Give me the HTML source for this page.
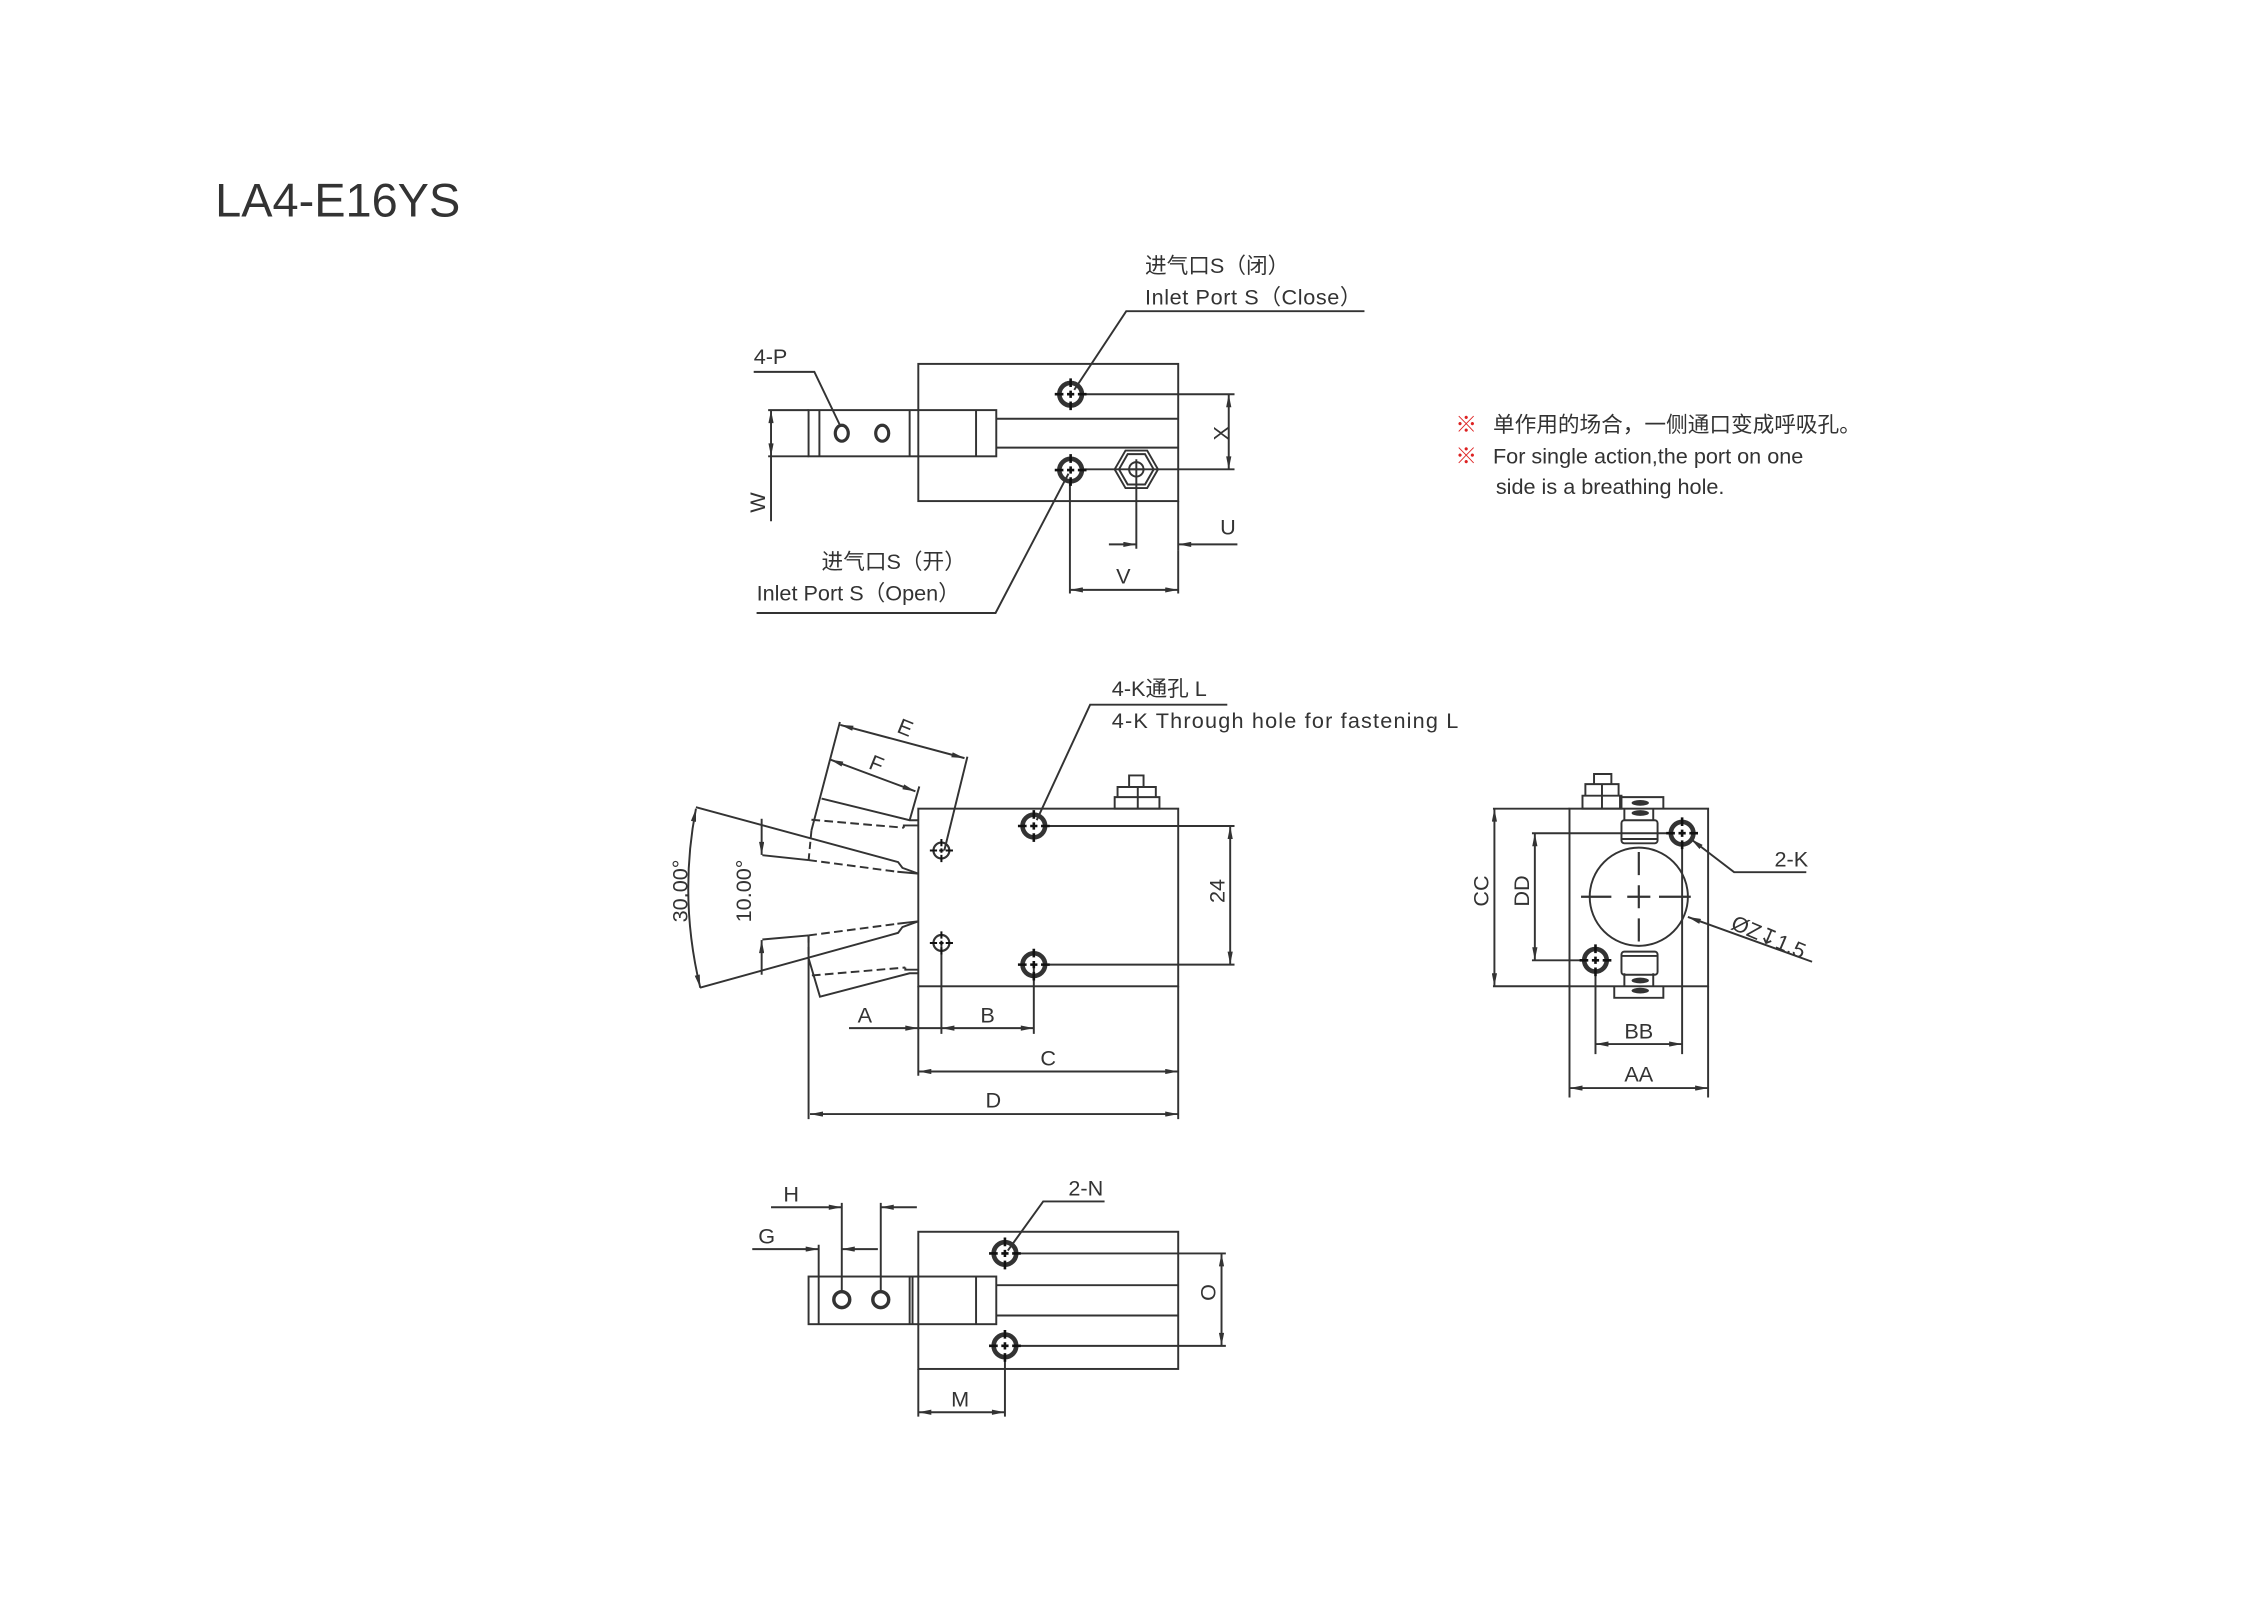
<!DOCTYPE html>
<html><head><meta charset="utf-8"><style>
html,body{margin:0;padding:0;background:#fff;}
svg{display:block;}
text{font-family:"Liberation Sans","Noto Sans CJK SC",sans-serif;fill:#333;}
</style></head><body>
<svg width="2264" height="1600" viewBox="0 0 1568 1108" preserveAspectRatio="none" xmlns="http://www.w3.org/2000/svg">
<defs>
<marker id="a" viewBox="0 0 10 4" refX="10" refY="2" markerWidth="11" markerHeight="3.6" markerUnits="userSpaceOnUse" orient="auto-start-reverse"><path d="M0,0 L10,2 L0,4 z" fill="#333"/></marker>
<g id="port"><circle r="7.8" fill="none" stroke="#333" stroke-width="3.2"/><path d="M-11,0 H-5 M-2.5,0 H2.5 M5,0 H11 M0,-11 V-5 M0,-2.5 V2.5 M0,5 V11" stroke="#111" stroke-width="1.8"/></g>
<g id="sh"><circle r="5.5" fill="none" stroke="#333" stroke-width="1.5"/><path d="M-8,0 H-3 M-1.5,0 H1.5 M3,0 H8 M0,-8 V-3 M0,-1.5 V1.5 M0,3 V8" stroke="#111" stroke-width="1.4"/></g>
</defs>
<rect width="1568" height="1108" fill="#fff"/>
<text x="149" y="150" font-size="32.5">LA4-E16YS</text>

<g stroke="#333" stroke-width="1.35" fill="none">
<!-- TOP VIEW -->
<rect x="636" y="252" width="180" height="95"/>
<rect x="560" y="284" width="130" height="32"/>
<path d="M567.5,284V316 M630,284V316 M676,284V316 M690,290H816 M690,310H816"/>
<ellipse cx="583" cy="300" rx="4.5" ry="5.5" stroke-width="2.2"/>
<ellipse cx="611" cy="300" rx="4.5" ry="5.5" stroke-width="2.2"/>
<path d="M772,325 l7.5,-13 h15 l7.5,13 l-7.5,13 h-15z"/>
<path d="M775,325 l6,-10.5 h12 l6,10.5 l-6,10.5 h-12z"/>
<circle cx="787" cy="325" r="5"/>
<path d="M787,318V380 M781,325H793"/>
<path d="M750,273H855 M750,325H855"/>
<line x1="851" y1="273" x2="851" y2="325" marker-start="url(#a)" marker-end="url(#a)"/>
<path d="M816,347V381"/>
<line x1="768" y1="377" x2="787" y2="377" marker-end="url(#a)"/>
<line x1="857" y1="377" x2="816" y2="377" marker-end="url(#a)"/>
<path d="M741,333V411 M816,381V411"/>
<line x1="741" y1="408.5" x2="816" y2="408.5" marker-start="url(#a)" marker-end="url(#a)"/>
<path d="M532,284H560 M532,316H560"/>
<line x1="534" y1="316" x2="534" y2="284" marker-start="url(#a)" marker-end="url(#a)"/>
<path d="M534,316V361"/>
<path d="M522,257.5H564L582,295"/>
<path d="M945,215.5H780L744,270"/>
<path d="M524,424.5H689.5L740,328"/>

<!-- MIDDLE VIEW -->
<rect x="636" y="560" width="180" height="123"/>
<path d="M772,552H803V560H772Z M788,552V560 M774,545H800.5V552H774Z M788,545V552 M782,537H792V545H782Z"/>
<path d="M724,572H855 M724,668H855"/>
<line x1="852" y1="572" x2="852" y2="668" marker-start="url(#a)" marker-end="url(#a)"/>
<path d="M581.7,500L562,575"/>
<path d="M562,575L560,596" stroke-dasharray="5,3"/>
<path d="M569,553L630,568L636,568"/>
<path d="M636.7,544.6L630,568"/>
<path d="M562,567.7L626,573.2" stroke-dasharray="6,3"/>
<path d="M626,573.2V571.6H636"/>
<path d="M482,559L622,597L625,601L636,605"/>
<path d="M559.8,595.6L621.5,603.7" stroke-dasharray="6,3"/>
<path d="M621.5,603.7L636,605"/>
<path d="M528,592.2L559.8,595.6"/>
<line x1="527.5" y1="567" x2="527.5" y2="592" marker-end="url(#a)"/>
<path d="M670,524L654,589"/>
<line x1="582" y1="502" x2="668" y2="525" marker-start="url(#a)" marker-end="url(#a)"/>
<line x1="575" y1="526" x2="634" y2="548" marker-start="url(#a)" marker-end="url(#a)"/>
<path d="M484.8,684L622,646L625,642L636,638"/>
<path d="M559.8,647.8L621.5,639.7" stroke-dasharray="6,3"/>
<path d="M621.5,639.7L636,638"/>
<path d="M528,650.6L559.8,647.8"/>
<path d="M560,647.8L560,663.6" stroke-dasharray="5,3"/>
<path d="M560,663.6L567.9,690.2L630,674H636"/>
<path d="M562.3,675.5L627,670" stroke-dasharray="6,3"/>
<path d="M627,670V671.5H636"/>
<line x1="527.5" y1="675" x2="527.5" y2="651" marker-end="url(#a)"/>
<path d="M482,560Q470,622 485,684" marker-start="url(#a)" marker-end="url(#a)"/>
<path d="M652,653V716 M716,668V716 M636,683V745 M816,683V775 M560,648V775"/>
<line x1="588" y1="712" x2="636" y2="712" marker-end="url(#a)"/>
<path d="M636,712H652"/>
<line x1="652" y1="712" x2="716" y2="712" marker-start="url(#a)" marker-end="url(#a)"/>
<line x1="636" y1="742" x2="816" y2="742" marker-start="url(#a)" marker-end="url(#a)"/>
<line x1="561" y1="771.5" x2="816" y2="771.5" marker-start="url(#a)" marker-end="url(#a)"/>
<path d="M850,488H755L718,568"/>

<!-- RIGHT VIEW -->
<rect x="1087" y="560" width="96" height="123"/>
<path d="M1096,551H1123V560H1096Z M1109.5,551V560 M1098,543H1121V551H1098Z M1109.5,543V551 M1104,536H1116V543H1104Z"/>
<path d="M1122,560V552H1152V560 M1125,560V568 M1145,560V568"/>
<rect x="1123" y="568" width="25" height="16" rx="2"/>
<path d="M1123,581H1148"/>
<path d="M1118,683V691H1152V683 M1125,683V674 M1145,683V674"/>
<rect x="1123" y="659" width="25" height="16" rx="2"/>
<path d="M1123,662H1148"/>
<circle cx="1135" cy="621" r="34"/>
<path d="M1095,621H1116 M1127,621H1143 M1149,621H1171 M1135,590V606 M1135,613V629 M1135,636V652" stroke-width="1.5"/>
<path d="M1034,560H1087 M1034,683H1087"/>
<line x1="1035" y1="560" x2="1035" y2="683" marker-start="url(#a)" marker-end="url(#a)"/>
<path d="M1061,577H1158 M1061,665H1098"/>
<line x1="1063" y1="577" x2="1063" y2="665" marker-start="url(#a)" marker-end="url(#a)"/>
<path d="M1105,673V730 M1165,585V730 M1087,683V760 M1183,683V760"/>
<line x1="1105" y1="723" x2="1165" y2="723" marker-start="url(#a)" marker-end="url(#a)"/>
<line x1="1087" y1="753.5" x2="1183" y2="753.5" marker-start="url(#a)" marker-end="url(#a)"/>
<path d="M1251,604H1201L1171,581" marker-end="url(#a)"/>
<path d="M1255,666L1169,635" marker-end="url(#a)"/>

<!-- BOTTOM VIEW -->
<rect x="636" y="853" width="180" height="95"/>
<rect x="560" y="884" width="130" height="33"/>
<path d="M567,884V917 M630,884V917 M632,884V917 M676,884V917 M690,890H816 M690,911H816"/>
<circle cx="583" cy="900" r="5.5" stroke-width="2.4"/>
<circle cx="610" cy="900" r="5.5" stroke-width="2.4"/>
<path d="M704,868H849 M704,932H849"/>
<line x1="846" y1="868" x2="846" y2="932" marker-start="url(#a)" marker-end="url(#a)"/>
<path d="M636,948V981 M696,940V981"/>
<line x1="636" y1="978" x2="696" y2="978" marker-start="url(#a)" marker-end="url(#a)"/>
<path d="M583,833V895 M610,833V895 M567,862V884"/>
<line x1="534" y1="836" x2="583" y2="836" marker-end="url(#a)"/>
<line x1="635" y1="836" x2="610" y2="836" marker-end="url(#a)"/>
<line x1="521" y1="865" x2="567" y2="865" marker-end="url(#a)"/>
<line x1="608" y1="865" x2="583" y2="865" marker-end="url(#a)"/>
<path d="M765,832H722.5L698,866"/>
</g>

<use href="#port" x="741.5" y="273"/>
<use href="#port" x="741.5" y="325.5"/>
<use href="#port" x="716" y="572"/>
<use href="#port" x="716" y="668"/>
<use href="#sh" x="652" y="589"/>
<use href="#sh" x="652" y="653"/>
<use href="#port" x="1165" y="577"/>
<use href="#port" x="1105" y="665"/>
<use href="#port" x="696" y="868"/>
<use href="#port" x="696" y="932"/>
<g fill="#333">
<ellipse cx="1136" cy="556" rx="6" ry="2"/><ellipse cx="1136" cy="563" rx="6" ry="2"/>
<ellipse cx="1136" cy="679" rx="6" ry="2"/><ellipse cx="1136" cy="686" rx="6" ry="2"/>
</g>

<g font-size="15">
<text x="793" y="189">进气口S（闭）</text>
<text x="793" y="211" textLength="150">Inlet Port S（Close）</text>
<text x="522" y="252">4-P</text>
<text x="569" y="394">进气口S（开）</text>
<text x="524" y="416">Inlet Port S（Open）</text>
<text x="845" y="306" text-anchor="middle" transform="rotate(-90 845 300)">X</text>
<text x="845" y="370">U</text>
<text x="773" y="404">V</text>
<text x="530" y="348" text-anchor="middle" transform="rotate(-90 530 348)">W</text>
<text x="770" y="482">4-K通孔  L</text>
<text x="770" y="504" textLength="240">4-K Through hole for fastening L</text>
<text x="627" y="509" text-anchor="middle" transform="rotate(22 627 504)">E</text>
<text x="607" y="534" text-anchor="middle" transform="rotate(22 607 529)">F</text>
<text x="476" y="627" text-anchor="middle" transform="rotate(-90 471 622)">30.00°</text>
<text x="520" y="627" text-anchor="middle" transform="rotate(-90 515 622)">10.00°</text>
<text x="848" y="627" text-anchor="middle" transform="rotate(-90 843 622)">24</text>
<text x="599" y="708" text-anchor="middle">A</text>
<text x="684" y="708" text-anchor="middle">B</text>
<text x="726" y="738" text-anchor="middle">C</text>
<text x="688" y="767" text-anchor="middle">D</text>
<text x="1031" y="627" text-anchor="middle" transform="rotate(-90 1026 622)">CC</text>
<text x="1059" y="627" text-anchor="middle" transform="rotate(-90 1054 622)">DD</text>
<text x="1135" y="719" text-anchor="middle">BB</text>
<text x="1135" y="749" text-anchor="middle">AA</text>
<text x="1229" y="600">2-K</text>
<text x="1198" y="643" transform="rotate(23 1198 643)">ØZ↧1.5</text>
<text x="548" y="832" text-anchor="middle">H</text>
<text x="531" y="861" text-anchor="middle">G</text>
<text x="752" y="828" text-anchor="middle">2-N</text>
<text x="841" y="906" text-anchor="middle" transform="rotate(-90 836 900)">O</text>
<text x="665" y="974" text-anchor="middle">M</text>
<text x="1008" y="299"><tspan fill="#d22">※</tspan><tspan x="1034">单作用的场合，一侧通口变成呼吸孔。</tspan></text>
<text x="1008" y="321"><tspan fill="#d22">※</tspan><tspan x="1034">For single action,the port on one</tspan></text>
<text x="1036" y="342">side is a breathing hole.</text>
</g>
</svg>
</body></html>
